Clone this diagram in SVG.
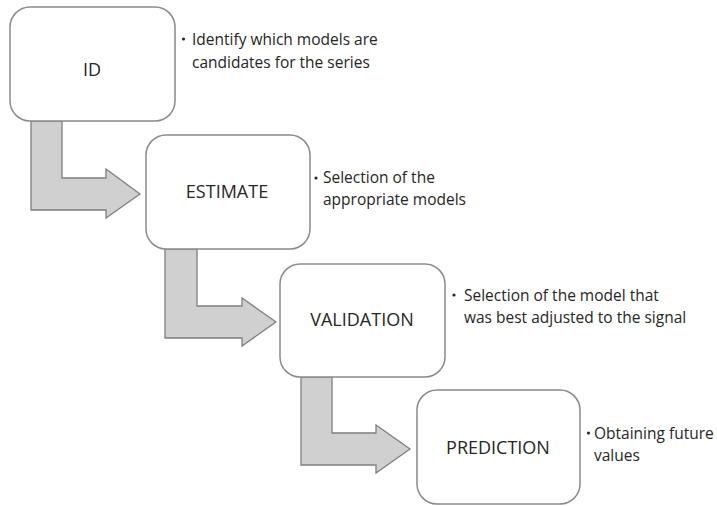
<svg xmlns="http://www.w3.org/2000/svg" width="717" height="506" viewBox="0 0 717 506">
<style>
.box{fill:#ffffff;stroke:#8a8a8a;stroke-width:1.5}
.arr{fill:#d0d0d0;stroke:#7f7f7f;stroke-width:1.3;stroke-linejoin:miter}
.lbl{font-family:"Open Sans","Noto Sans",sans-serif;font-size:18px;fill:#262626;text-anchor:middle}
.note{font-family:"Open Sans","Noto Sans",sans-serif;font-size:15.5px;fill:#262626}
.dot{fill:#262626}
</style>
<rect width="717" height="506" fill="#ffffff"/>
<g id="connectors">
<polygon class="arr" points="31,121 62,121 62,178 106,178 106,169 140,194 106,218 106,210 31,210"/>
<polygon class="arr" points="165,249 197,249 197,306 242,306 242,298 276,322 242,346 242,338 165,338"/>
<polygon class="arr" points="301,377 332,377 332,433 376,433 376,425 410,449 376,473 376,465 301,465"/>
</g>
<g id="node-id">
<rect class="box" x="10" y="7" width="165" height="114" rx="20"/>
<text class="lbl" x="92" y="76">ID</text>
</g>
<g id="note-id">
<circle class="dot" cx="183.5" cy="39" r="1.6"/>
<text class="note" x="192" y="45">Identify which models are</text>
<text class="note" x="192" y="68">candidates for the series</text>
</g>
<g id="node-estimate">
<rect class="box" x="146" y="135" width="164" height="114" rx="20"/>
<text class="lbl" x="227" y="198">ESTIMATE</text>
</g>
<g id="note-estimate">
<circle class="dot" cx="316" cy="178" r="1.6"/>
<text class="note" x="323" y="183">Selection of the</text>
<text class="note" x="323" y="205">appropriate models</text>
</g>
<g id="node-validation">
<rect class="box" x="280" y="264" width="165" height="113" rx="20"/>
<text class="lbl" x="362" y="326">VALIDATION</text>
</g>
<g id="note-validation">
<circle class="dot" cx="454" cy="295" r="1.6"/>
<text class="note" x="464" y="301">Selection of the model that</text>
<text class="note" x="464" y="323">was best adjusted to the signal</text>
</g>
<g id="node-prediction">
<rect class="box" x="417" y="390" width="163" height="114" rx="20"/>
<text class="lbl" x="498" y="454">PREDICTION</text>
</g>
<g id="note-prediction">
<circle class="dot" cx="588.5" cy="433" r="1.6"/>
<text class="note" x="594" y="439">Obtaining future</text>
<text class="note" x="594" y="461">values</text>
</g>
</svg>
